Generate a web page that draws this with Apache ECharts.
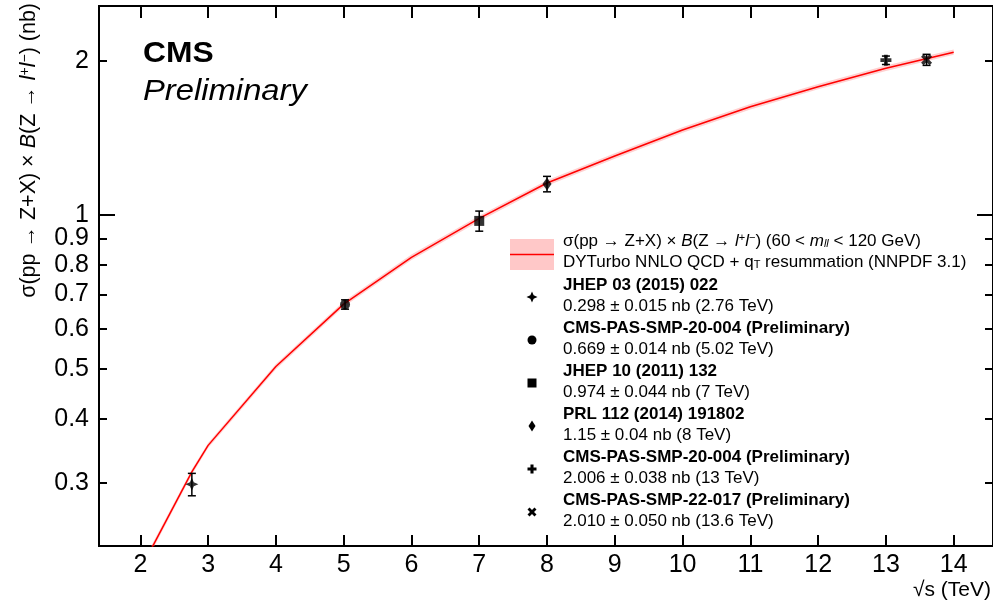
<!DOCTYPE html>
<html><head><meta charset="utf-8">
<script src="https://cdn.jsdelivr.net/npm/echarts@6/dist/echarts.min.js"></script>
<style>html,body{margin:0;padding:0;background:#fff}#c{width:993px;height:605px}</style>
</head><body><div id="c"></div>
<script>
// Theory curve (DYTurbo NNLO QCD + qT resummation)
const theoryX    = [2, 2.76, 3, 4, 5, 6, 7, 8, 9, 10, 11, 12, 13, 14];
const theoryY    = [0.203, 0.315, 0.355, 0.506, 0.670, 0.827, 0.985, 1.155, 1.304, 1.466, 1.628, 1.781, 1.935, 2.080];
const theoryUp   = [0.206, 0.319, 0.359, 0.512, 0.678, 0.837, 0.997, 1.169, 1.320, 1.484, 1.648, 1.802, 1.958, 2.105];
const theoryDown = [0.200, 0.311, 0.351, 0.500, 0.662, 0.817, 0.973, 1.141, 1.288, 1.448, 1.608, 1.760, 1.912, 2.055];
// Measurements
const measX   = [2.76, 5.02, 7, 8, 13, 13.6];
const measY   = [0.298, 0.669, 0.974, 1.15, 2.006, 2.010];
const measErr = [0.015, 0.014, 0.044, 0.04, 0.038, 0.050];
const measRef = ['JHEP 03 (2015) 022', 'CMS-PAS-SMP-20-004 (Preliminary)', 'JHEP 10 (2011) 132',
                 'PRL 112 (2014) 191802', 'CMS-PAS-SMP-20-004 (Preliminary)', 'CMS-PAS-SMP-22-017 (Preliminary)'];
const measTxt = ['0.298 ± 0.015 nb (2.76 TeV)', '0.669 ± 0.014 nb (5.02 TeV)', '0.974 ± 0.044 nb (7 TeV)',
                 '1.15 ± 0.04 nb (8 TeV)', '2.006 ± 0.038 nb (13 TeV)', '2.010 ± 0.050 nb (13.6 TeV)'];
// Axis ticks
const xTicks = [2, 3, 4, 5, 6, 7, 8, 9, 10, 11, 12, 13, 14];
const yMinorTicks = [0.3, 0.4, 0.5, 0.6, 0.7, 0.8, 0.9, 2];
const yMajorTicks = [1];
const yLabels = [0.3, 0.4, 0.5, 0.6, 0.7, 0.8, 0.9, 1, 2];

const FONT = '"Liberation Sans", Arial, Helvetica, sans-serif';
// marker outlines in a [-1,1] box
const SH_STAR = [[0,-1],[0.3,-0.3],[1,0],[0.3,0.3],[0,1],[-0.3,0.3],[-1,0],[-0.3,-0.3]];
const SH_DIAM = [[0,-1],[1,0],[0,1],[-1,0]];
const SH_PLUS = [[-0.34,-1],[0.34,-1],[0.34,-0.34],[1,-0.34],[1,0.34],[0.34,0.34],[0.34,1],[-0.34,1],[-0.34,0.34],[-1,0.34],[-1,-0.34],[-0.34,-0.34]];
const SH_X = [[-1,-0.55],[-0.55,-1],[0,-0.45],[0.55,-1],[1,-0.55],[0.45,0],[1,0.55],[0.55,1],[0,0.45],[-0.55,1],[-1,0.55],[-0.45,0]];
function toPath(sh) { return 'path://' + sh.map((p, i) => (i ? 'L' : 'M') + (p[0] * 10).toFixed(2) + ',' + (p[1] * 10).toFixed(2)).join(' ') + ' Z'; }
const shapes = [SH_STAR, 'circle', 'rect', SH_DIAM, SH_PLUS, SH_X];
const symbols = shapes.map(s => typeof s === 'string' ? s : toPath(s));
const symSizes = [13, 10, 10, [9, 13], 11, 11];
const legSymSizes = [[11, 11], [9, 9], [9, 9], [7, 11], [9, 9], [9, 9]];

const chart = echarts.init(document.getElementById('c'));

const X_MIN = 1.39, X_MAX = 14.58, Y_MIN = 0.2258, Y_MAX = 2.56;

function xAxisCfg(pos, tickLen, showLabel) {
  return {
    type: 'value', position: pos, min: X_MIN, max: X_MAX,
    axisLine: { show: true, onZero: false, lineStyle: { color: '#000', width: 2 } },
    axisTick: { show: true, inside: true, length: tickLen, customValues: xTicks, lineStyle: { color: '#000', width: 2 } },
    axisLabel: { show: showLabel, customValues: xTicks, fontSize: 25, color: '#000', fontFamily: FONT, margin: 7 },
    splitLine: { show: false }
  };
}
function yAxisCfg(pos, ticks, tickLen, showLabel) {
  return {
    type: 'log', logBase: 10, position: pos, min: Y_MIN, max: Y_MAX, offset: 0,
    axisLine: { show: true, onZero: false, lineStyle: { color: '#000', width: 2 } },
    axisTick: { show: true, inside: true, length: tickLen, customValues: ticks, lineStyle: { color: '#000', width: 2 } },
    axisLabel: { show: showLabel, customValues: yLabels, fontSize: 25, color: '#000', fontFamily: FONT, margin: 10,
      formatter: v => String(+(+v).toPrecision(3)) },
    splitLine: { show: false }, minorTick: { show: false }
  };
}

// Legend graphics
const legendEls = [];
legendEls.push({ type: 'rect', shape: { x: 510, y: 239, width: 44, height: 31 }, style: { fill: '#ffc8c8' } });
legendEls.push({ type: 'line', shape: { x1: 510, y1: 254.5, x2: 554, y2: 254.5 }, style: { stroke: '#ff0000', lineWidth: 1.5 } });
const richCommon = {
  i: { fontStyle: 'italic', fontSize: 17, fontFamily: FONT, fill: '#000' },
  sup: { fontSize: 11, verticalAlign: 'top', fontFamily: FONT, fill: '#000' },
  sub: { fontSize: 11, verticalAlign: 'bottom', fontFamily: FONT, fill: '#000' },
  subi: { fontSize: 11, fontStyle: 'italic', verticalAlign: 'bottom', fontFamily: FONT, fill: '#000' }
};
legendEls.push({ type: 'text', x: 563, y: 241, style: {
  text: 'σ(pp → Z+X) × {i|B}(Z → {i|l}{sup|+}{i|l}{sup|−}) (60 < {i|m}{subi|ll} < 120 GeV)',
  font: '17px ' + FONT, fill: '#000', verticalAlign: 'middle', rich: richCommon } });
legendEls.push({ type: 'text', x: 563, y: 262, style: {
  text: 'DYTurbo NNLO QCD + q{sub|T} resummation (NNPDF 3.1)',
  font: '17px ' + FONT, fill: '#000', verticalAlign: 'middle', rich: richCommon } });
for (let k = 0; k < measRef.length; k++) {
  legendEls.push({ type: 'text', x: 563, y: 285 + 43 * k, style: { text: measRef[k], font: 'bold 17px ' + FONT, fill: '#000', verticalAlign: 'middle' } });
  legendEls.push({ type: 'text', x: 563, y: 306 + 43 * k, style: { text: measTxt[k], font: '17px ' + FONT, fill: '#000', verticalAlign: 'middle' } });
  const cy = 297 + 43 * k, cx = 532, s = legSymSizes[k];
  const sh = shapes[k];
  if (sh === 'circle') {
    legendEls.push({ type: 'circle', shape: { cx: cx, cy: cy, r: s[0] / 2 }, style: { fill: '#000' } });
  } else if (sh === 'rect') {
    legendEls.push({ type: 'rect', shape: { x: cx - s[0] / 2, y: cy - s[1] / 2, width: s[0], height: s[1] }, style: { fill: '#000' } });
  } else {
    legendEls.push({ type: 'polygon', shape: { points: sh.map(p => [cx + p[0] * s[0] / 2, cy + p[1] * s[1] / 2]) }, style: { fill: '#000' } });
  }
}

const option = {
  animation: false,
  backgroundColor: '#fff',
  grid: { left: 99, right: 0, top: 6, bottom: 59, containLabel: false, outerBoundsMode: 'none' },
  xAxis: [xAxisCfg('bottom', 11, true), xAxisCfg('top', 12, false)],
  yAxis: [yAxisCfg('left', yMinorTicks, 8, true), yAxisCfg('left', yMajorTicks, 16, false),
          yAxisCfg('right', yMinorTicks, 8, false), yAxisCfg('right', yMajorTicks, 16, false)],
  series: [
    { type: 'custom', name: 'band', clip: true, z: 1, silent: true,
      data: [[theoryX[7], theoryY[7]]],
      renderItem: function (params, api) {
        const pts = [];
        for (let i = 0; i < theoryX.length; i++) pts.push(api.coord([theoryX[i], theoryUp[i]]));
        for (let i = theoryX.length - 1; i >= 0; i--) pts.push(api.coord([theoryX[i], theoryDown[i]]));
        return { type: 'polygon', shape: { points: pts }, style: { fill: 'rgba(255,150,150,0.45)' } };
      } },
    { type: 'line', name: 'theory', z: 2, symbol: 'none', clip: true, silent: true,
      data: theoryX.map((x, i) => [x, theoryY[i]]),
      lineStyle: { color: '#ff0000', width: 1.5 } },
    { type: 'custom', name: 'errors', z: 3, clip: true, silent: true,
      data: measX.map((x, i) => [x, measY[i], measErr[i]]),
      renderItem: function (params, api) {
        const x = api.value(0), y = api.value(1), e = api.value(2);
        const t = api.coord([x, y + e]), b = api.coord([x, y - e]);
        const hw = 4, st = { stroke: '#000', lineWidth: 1.5 };
        return { type: 'group', children: [
          { type: 'line', shape: { x1: t[0], y1: t[1], x2: b[0], y2: b[1] }, style: st },
          { type: 'line', shape: { x1: t[0] - hw, y1: t[1], x2: t[0] + hw, y2: t[1] }, style: st },
          { type: 'line', shape: { x1: b[0] - hw, y1: b[1], x2: b[0] + hw, y2: b[1] }, style: st }
        ] };
      } },
    { type: 'scatter', name: 'data', z: 4, silent: true,
      data: measX.map((x, i) => ({ value: [x, measY[i]], symbol: symbols[i], symbolSize: symSizes[i] })),
      itemStyle: { color: '#000' } }
  ],
  graphic: [
    { type: 'text', x: 143, y: 54, style: { text: 'CMS', font: 'bold 30px ' + FONT, fill: '#000', verticalAlign: 'middle' }, scaleX: 1.06 },
    { type: 'text', x: 143, y: 92, style: { text: 'Preliminary', font: 'italic 29px ' + FONT, fill: '#000', verticalAlign: 'middle' }, scaleX: 1.13 },
    { type: 'text', x: 29, y: 3, rotation: Math.PI / 2, style: {
        text: 'σ(pp → Z+X) × {i|B}(Z → {i|l}{sup|+}{i|l}{sup|−}) (nb)',
        font: '21.5px ' + FONT, fill: '#000', align: 'right', verticalAlign: 'middle',
        rich: { i: { fontStyle: 'italic', fontSize: 21.5, fontFamily: FONT, fill: '#000' },
                sup: { fontSize: 14, verticalAlign: 'top', fontFamily: FONT, fill: '#000' } } } },
    { type: 'text', x: 991, y: 590, style: { text: '√s (TeV)', font: '21px ' + FONT, fill: '#000', align: 'right', verticalAlign: 'middle' } },
    { type: 'group', children: legendEls }
  ]
};
chart.setOption(option);
</script>
</body></html>
